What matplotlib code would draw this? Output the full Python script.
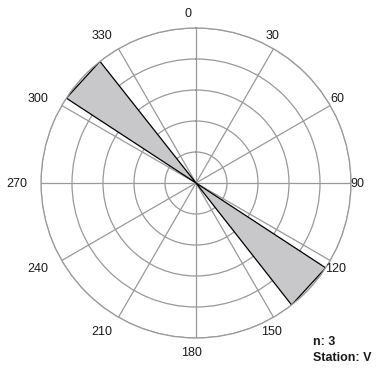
import numpy as np
import matplotlib
matplotlib.use("Agg")
import matplotlib.pyplot as plt

# Data: rose-diagram sectors (compass degrees) and their relative lengths
sector_start = [123.2, 303.2]
sector_end = [141.9, 321.7]
sector_length = [5, 5]
n_count = 3
station = "V"
ring_values = [1, 2, 3, 4, 5]
angle_labels = [0, 30, 60, 90, 120, 150, 180, 210, 240, 270, 300, 330]

plt.rcParams['font.family'] = ['Liberation Sans', 'DejaVu Sans']

W, H = 381, 372
fig = plt.figure(figsize=(W / 100, H / 100), dpi=100)
cx, cy, R = 196, 183, 155
ax = fig.add_axes([(cx - R) / W, (H - cy - R) / H, 2 * R / W, 2 * R / H], projection='polar')
ax.set_theta_zero_location('N')
ax.set_theta_direction(-1)
ax.set_ylim(0, 5)
ax.set_rgrids(ring_values, labels=[''] * len(ring_values))
ax.set_thetagrids(angle_labels, labels=[''] * len(angle_labels))
ax.grid(True, color='#999999', linewidth=0.9)
ax.spines['polar'].set_color('#999999')
ax.spines['polar'].set_linewidth(0.9)
ax.spines['polar'].set_zorder(5)
ax.tick_params(length=0, pad=0)

for s, e, L in zip(sector_start, sector_end, sector_length):
    th = np.deg2rad([0, s, e, 0])
    rr = [0, L, L, 0]
    ax.fill(th, rr, facecolor='#c8c8ca', edgecolor='black', linewidth=0.9, zorder=3)

# angle labels positioned around the circle
label_px = {0: (188, 14), 30: (273, 36), 60: (337, 99), 90: (357, 184),
            120: (336, 269), 150: (272, 332), 180: (191, 353), 210: (102, 332),
            240: (38, 269), 270: (17, 184), 300: (38, 99), 330: (102, 36)}
for a in angle_labels:
    x, y = label_px[a]
    fig.text(x / W, 1 - y / H, str(a), ha='center', va='center', fontsize=9, color='#1a1a1a')

fig.text(313 / W, 1 - 342 / H, f"n: {n_count}", ha='left', va='center', fontsize=9,
         fontweight='bold', color='#1a1a1a')
fig.text(313 / W, 1 - 358 / H, f"Station: {station}", ha='left', va='center', fontsize=9,
         fontweight='bold', color='#1a1a1a')

fig.savefig('out.png', dpi=100)
